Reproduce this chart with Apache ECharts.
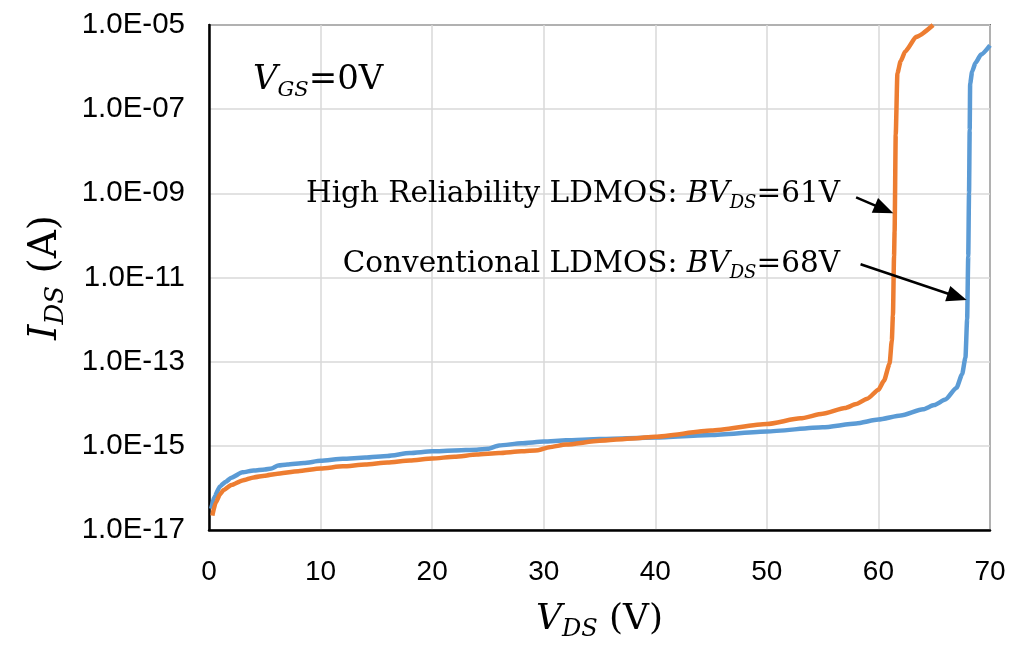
<!DOCTYPE html>
<html><head><meta charset="utf-8">
<script src="https://cdn.jsdelivr.net/npm/echarts@6/dist/echarts.min.js"></script>
<style>html,body{margin:0;padding:0;background:#fff}#c{width:1010px;height:649px}</style>
</head><body><div id="c"></div>
<script>
// ---- data ----
const xTicks = [0, 10, 20, 30, 40, 50, 60, 70];
const yTickLabels = ['1.0E-17','1.0E-15','1.0E-13','1.0E-11','1.0E-09','1.0E-07','1.0E-05'];

// Conventional LDMOS (blue): V_DS (V) and I_DS (A)
const convV = [0.2,0.5,1.0,1.5,2.0,3.0,4.0,5.0,5.6,6.2,7.0,8.5,10,12,14,16,18,20,22,24,25,26,28,30,32,35,40,45,50,55,58,60,62,64,65,66,67,67.5,67.8,67.95,68.05,68.12,68.18,68.22,68.4,68.7,69.2,70];
const convI = [3.2e-17,6.3e-17,1.1e-16,1.4e-16,1.75e-16,2.35e-16,2.6e-16,2.75e-16,2.9e-16,3.4e-16,3.6e-16,3.9e-16,4.4e-16,4.9e-16,5.25e-16,5.75e-16,6.75e-16,7.4e-16,7.75e-16,8.1e-16,8.5e-16,1.02e-15,1.15e-15,1.26e-15,1.35e-15,1.45e-15,1.58e-15,1.82e-15,2.2e-15,2.75e-15,3.4e-15,4.2e-15,5.25e-15,7.4e-15,9.3e-15,1.26e-14,2.4e-14,5.0e-14,1.26e-13,1.0e-12,3.2e-11,1.0e-9,3.2e-8,4.0e-7,7.9e-7,1.26e-6,2.0e-6,3.3e-6];

// High Reliability LDMOS (orange)
const hrV = [0.3,0.6,1.0,1.3,2.0,3.0,4.0,5.0,6.0,8.0,10,12,14,16,18,20,22,24,26,28,29.5,30.5,32,35,38,40,45,50,53,55,57,58,59,60,60.5,61.0,61.2,61.3,61.4,61.45,61.55,61.7,62.0,62.4,63.4,64.9];
const hrI = [2.2e-17,4.5e-17,7.1e-17,8.9e-17,1.17e-16,1.5e-16,1.78e-16,1.95e-16,2.15e-16,2.5e-16,2.9e-16,3.25e-16,3.6e-16,4.0e-16,4.5e-16,5.0e-16,5.5e-16,6.2e-16,6.75e-16,7.4e-16,7.9e-16,9.3e-16,1.07e-15,1.32e-15,1.5e-15,1.65e-15,2.3e-15,3.3e-15,4.5e-15,5.75e-15,7.9e-15,9.8e-15,1.32e-14,2.15e-14,3.55e-14,8.9e-14,3.2e-13,1.26e-12,3.2e-11,1.26e-10,2.5e-8,7.1e-7,1.4e-6,2.35e-6,5.25e-6,1.0e-5];

// annotation arrows: [V, I] start -> end
const arrowHR = [[58.0, 8.0e-10], [60.51, 4.15e-10]];
const arrowConv = [[58.4, 2.06e-11], [67.06, 3.48e-12]];

// ---- chart ----
const lg = v => Math.log10(v);
const toPts = (xs, ys) => xs.map((x, i) => [x, lg(ys[i])]);

const chart = echarts.init(document.getElementById('c'));
const SERIF = 'DejaVu Serif';
function richSet(main, sub, lh, subLh) {
  return {
    m: {fontFamily: SERIF, fontSize: main, lineHeight: lh, color: '#000'},
    i: {fontFamily: SERIF, fontStyle: 'italic', fontSize: main, lineHeight: lh, color: '#000'},
    s: {fontFamily: SERIF, fontStyle: 'italic', fontSize: sub, lineHeight: subLh, verticalAlign: 'bottom', color: '#000'}
  };
}
const annRich = richSet(29.5, 18, 36, 14);
const vgsRich = richSet(34, 21, 42, 28);
const xNameRich = richSet(36, 24, 44, 30);
const yNameRich = richSet(39, 26, 46, 31);

chart.setOption({
  animation: false,
  backgroundColor: '#fff',
  grid: {left: 209, right: 20, top: 25, bottom: 119, show: true, borderColor: '#000', borderWidth: 1.5, backgroundColor: 'transparent'},
  xAxis: {
    type: 'value', min: xTicks[0], max: xTicks[xTicks.length-1], interval: 10,
    axisLine: {show: true, onZero: false, lineStyle: {color: '#000', width: 2.5}},
    axisTick: {show: false},
    splitLine: {show: true, lineStyle: {color: '#d9d9d9', width: 1.5}},
    axisLabel: {fontFamily: 'Liberation Sans', fontSize: 28, color: '#000', margin: 28},
    name: '{i|V}{s|DS}{m| (V)}', nameLocation: 'middle', nameGap: 68,
    nameTextStyle: {rich: xNameRich}
  },
  yAxis: {
    type: 'value', min: -17, max: -5, interval: 2,
    axisLine: {show: true, onZero: false, lineStyle: {color: '#000', width: 2.5}},
    axisTick: {show: false},
    splitLine: {show: true, lineStyle: {color: '#d9d9d9', width: 1.5}},
    axisLabel: {fontFamily: 'Liberation Sans', fontSize: 29.5, color: '#000', margin: 24,
      formatter: v => yTickLabels[Math.round((v + 17) / 2)]},
    name: '{i|I}{s|DS}{m| (A)}', nameLocation: 'middle', nameGap: 140,
    nameTextStyle: {rich: yNameRich}
  },
  series: [
    {type: 'line', name: 'Conventional LDMOS', data: toPts(convV, convI), showSymbol: false,
     smooth: 0.2, smoothMonotone: 'x', lineStyle: {color: '#5B9BD5', width: 4.5}, itemStyle: {color: '#5B9BD5'}, z: 2},
    {type: 'line', name: 'High Reliability LDMOS', data: toPts(hrV, hrI), showSymbol: false,
     smooth: 0.2, smoothMonotone: 'x', lineStyle: {color: '#ED7D31', width: 4.5}, itemStyle: {color: '#ED7D31'}, z: 3,
     markLine: {silent: true, animation: false, symbol: ['none', 'triangle'], symbolSize: [16, 20],
       lineStyle: {color: '#000', width: 2.5, type: 'solid'}, label: {show: false},
       data: [
         [{coord: [arrowHR[0][0], lg(arrowHR[0][1])]}, {coord: [arrowHR[1][0], lg(arrowHR[1][1])]}],
         [{coord: [arrowConv[0][0], lg(arrowConv[0][1])]}, {coord: [arrowConv[1][0], lg(arrowConv[1][1])]}]
       ]}}
  ],
  graphic: [
    {type: 'text', x: 840, y: 194, z: 10, style: {text: '{m|High Reliability LDMOS: }{i|BV}{s|DS}{m|=61V}', rich: annRich, align: 'right', verticalAlign: 'middle'}},
    {type: 'text', x: 840, y: 264, z: 10, style: {text: '{m|Conventional LDMOS: }{i|BV}{s|DS}{m|=68V}', rich: annRich, align: 'right', verticalAlign: 'middle'}},
    {type: 'text', x: 253, y: 80, z: 10, style: {text: '{i|V}{s|GS}{m|=0V}', rich: vgsRich, align: 'left', verticalAlign: 'middle'}}
  ]
});
</script></body></html>
